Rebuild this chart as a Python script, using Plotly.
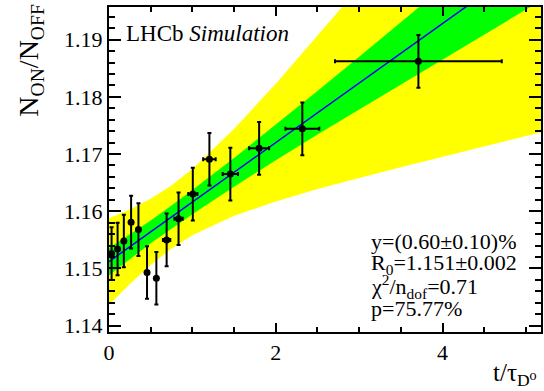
import plotly.graph_objects as go

# Measured ratio N_ON/N_OFF versus decay time
t_vals = [0.031, 0.103, 0.178, 0.265, 0.353, 0.456, 0.568, 0.691, 0.834,
          1.005, 1.204, 1.455, 1.800, 2.318, 3.710]
t_errs = [0.0, 0.0, 0.0, 0.0, 0.0, 0.0, 0.0, 0.044, 0.05,
          0.055, 0.075, 0.092, 0.12, 0.203, 1.0]
ratio = [1.1526, 1.1534, 1.1548, 1.1581, 1.1568, 1.1493, 1.1483, 1.1550,
         1.1587, 1.1630, 1.1691, 1.1665, 1.1710, 1.1744, 1.1862]
ratio_errs = [0.0046, 0.0046, 0.0046, 0.0046, 0.0046, 0.0046, 0.0046, 0.0046,
              0.0046, 0.0046, 0.0046, 0.0046, 0.0046, 0.0046, 0.0046]

# Fit result and its 1 sigma / 2 sigma bands
band_t = [0.0, 0.25, 0.5, 0.75, 1.0, 1.5, 2.0, 2.5, 3.0, 3.5, 4.0, 4.5, 5.2]
fit_center = [1.1512, 1.1538, 1.1564, 1.1590, 1.1616, 1.1668, 1.1720,
              1.1772, 1.1824, 1.1876, 1.1928, 1.1980, 1.2053]
green_lo = [1.1488, 1.1516, 1.1544, 1.1570, 1.1595, 1.1643, 1.1689,
            1.1734, 1.1778, 1.1822, 1.1865, 1.1909, 1.1970]
green_hi = [1.1536, 1.1560, 1.1584, 1.1610, 1.1637, 1.1693, 1.1751,
            1.1810, 1.1870, 1.1930, 1.1991, 1.2051, 1.2136]
yellow_lo = [1.1436, 1.1473, 1.1506, 1.1535, 1.1558, 1.1592, 1.1617,
             1.1639, 1.1658, 1.1677, 1.1696, 1.1714, 1.1739]
yellow_hi = [1.1588, 1.1603, 1.1622, 1.1645, 1.1674, 1.1744, 1.1823,
             1.1905, 1.1990, 1.2075, 1.2160, 1.2246, 1.2367]

stats_lines = [
    "y=(0.60±0.10)%",
    "R<sub>0</sub>=1.151±0.002",
    "χ<sup>2</sup>/n<sub>dof</sub>=0.71",
    "p=75.77%",
]

FONT = "Liberation Serif, Tinos, Times New Roman, DejaVu Serif, serif"

fig = go.Figure()


def band(lo, hi, color):
    fig.add_trace(go.Scatter(
        x=band_t + band_t[::-1], y=hi + lo[::-1], fill="toself",
        fillcolor=color, line=dict(width=0), mode="lines",
        hoverinfo="skip", showlegend=False))


band(yellow_lo, yellow_hi, "#ffff00")
band(green_lo, green_hi, "#00ff00")

fig.add_trace(go.Scatter(
    x=band_t, y=fit_center, mode="lines",
    line=dict(color="#0000ff", width=1.5), showlegend=False))

fig.add_trace(go.Scatter(
    x=t_vals, y=ratio, mode="markers",
    marker=dict(color="black", size=7),
    error_y=dict(type="data", array=ratio_errs, color="black",
                 thickness=2, width=2),
    error_x=dict(type="data", array=t_errs, color="black",
                 thickness=2, width=2),
    showlegend=False))

axis_common = dict(
    showline=True, linecolor="black", linewidth=2, mirror="allticks",
    ticks="inside", tickcolor="black", tickwidth=1.5,
    showgrid=False, zeroline=False,
    tickfont=dict(family=FONT, size=22, color="black"),
)

fig.update_xaxes(range=[0, 5.18], tick0=0, dtick=2, ticklen=9,
                 minor=dict(dtick=0.5, ticklen=5, ticks="inside",
                            tickcolor="black", tickwidth=1.5),
                 **axis_common)
fig.update_yaxes(range=[1.1389, 1.1957], tick0=1.14, dtick=0.01,
                 tickformat=".2f", ticklen=12,
                 minor=dict(dtick=0.002, ticklen=6, ticks="inside",
                            tickcolor="black", tickwidth=1.5),
                 **axis_common)

annotations = [
    dict(text="N<sub>ON</sub>/N<sub>OFF</sub>", textangle=-90,
         xref="paper", yref="paper", x=-0.182, y=1.016,
         xanchor="center", yanchor="top", showarrow=False,
         font=dict(family=FONT, size=28, color="black")),
    dict(text="t/τ<sub>D⁰</sub>", xref="paper", yref="paper",
         x=0.995, y=-0.13, xanchor="right", yanchor="middle",
         showarrow=False, font=dict(family=FONT, size=25, color="black")),
    dict(text="LHCb <i>Simulation</i>", xref="paper", yref="paper",
         x=0.035, y=0.919, xanchor="left", yanchor="middle",
         showarrow=False, font=dict(family=FONT, size=23, color="black")),
]
stat_y = [0.278, 0.210, 0.140, 0.072]
for line, yy in zip(stats_lines, stat_y):
    annotations.append(dict(
        text=line, xref="paper", yref="paper", x=0.601, y=yy,
        xanchor="left", yanchor="middle", showarrow=False,
        font=dict(family=FONT, size=22, color="black")))

fig.update_layout(
    width=544, height=391,
    margin=dict(l=109, r=1, t=7, b=59),
    plot_bgcolor="white", paper_bgcolor="white",
    annotations=annotations,
)

fig.write_html("out.html")
